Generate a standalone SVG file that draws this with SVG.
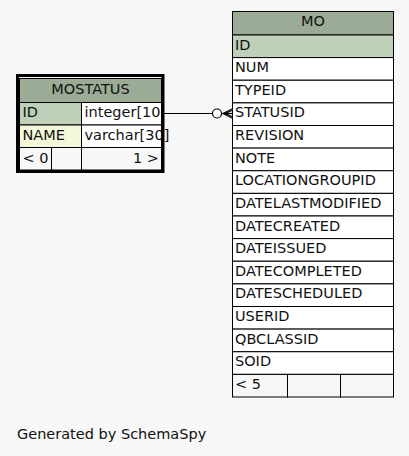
<svg xmlns="http://www.w3.org/2000/svg" width="409" height="456" viewBox="0 0 409 456">
<style>
text{font-family:"DejaVu Sans","Liberation Sans",sans-serif;font-size:14.5px;fill:#111}
.c{stroke:#000;stroke-width:1}
.h{fill:#9bab96}
.pk{fill:#bed1b8}
.ix{fill:#f4f7da}
.w{fill:#fff}
.e{stroke:#000;stroke-width:1.2;fill:none}
</style>
<rect width="409" height="456" fill="#f7f7f7"/>
<g id="connectors">
<line class="e" x1="164" y1="113.5" x2="212.5" y2="113.5"/>
<circle cx="217" cy="113.5" r="4.5" fill="#fff" stroke="#000" stroke-width="1.2"/>
<line class="e" x1="221.5" y1="113.5" x2="232" y2="113.5"/>
<path class="e" d="M232 109 L223 113.5 L232 118"/>
<path class="e" d="M232 110.5 L225 113.5 L232 116.5"/>
</g>
<g id="MOSTATUS">
<rect class="h c" x="19.5" y="78.5" width="142" height="24"/>
<text x="90.5" y="94" text-anchor="middle">MOSTATUS</text>
<rect class="pk c" x="19.5" y="102.5" width="62" height="22.5"/>
<rect class="w c" x="81.5" y="102.5" width="80" height="22.5"/>
<rect class="ix c" x="19.5" y="125" width="62" height="22.5"/>
<rect class="w c" x="81.5" y="125" width="80" height="22.5"/>
<rect class="c" fill="#f7f7f7" x="19.5" y="147.5" width="32" height="22.5"/>
<rect class="c" fill="#f7f7f7" x="51.5" y="147.5" width="30" height="22.5"/>
<rect class="c" fill="#f7f7f7" x="81.5" y="147.5" width="80" height="22.5"/>
<text x="22.5" y="117">ID</text>
<text x="84.5" y="117">integer[10</text>
<text x="22.5" y="139.5">NAME</text>
<text x="84.5" y="139.5">varchar[30]</text>
<text x="22.5" y="162.5">&lt; 0</text>
<text x="159" y="162.5" text-anchor="end">1 &gt;</text>
<rect x="17.5" y="75.5" width="145.5" height="96" fill="none" stroke="#000" stroke-width="3"/>
</g>
<g id="MO">
<rect class="h c" x="232.5" y="11.5" width="161" height="23.5"/>
<text x="313" y="26" text-anchor="middle">MO</text>
<rect class="pk c" x="232.5" y="35" width="161" height="22.6"/>
<rect class="w c" x="232.5" y="57.6" width="161" height="22.6"/>
<rect class="w c" x="232.5" y="80.25" width="161" height="22.6"/>
<rect class="w c" x="232.5" y="102.9" width="161" height="22.6"/>
<rect class="w c" x="232.5" y="125.5" width="161" height="22.6"/>
<rect class="w c" x="232.5" y="148.1" width="161" height="22.6"/>
<rect class="w c" x="232.5" y="170.75" width="161" height="22.6"/>
<rect class="w c" x="232.5" y="193.4" width="161" height="22.6"/>
<rect class="w c" x="232.5" y="216" width="161" height="22.6"/>
<rect class="w c" x="232.5" y="238.6" width="161" height="22.6"/>
<rect class="w c" x="232.5" y="261.25" width="161" height="22.6"/>
<rect class="w c" x="232.5" y="283.9" width="161" height="22.6"/>
<rect class="w c" x="232.5" y="306.5" width="161" height="22.6"/>
<rect class="w c" x="232.5" y="329.1" width="161" height="22.6"/>
<rect class="w c" x="232.5" y="351.75" width="161" height="22.6"/>
<rect class="c" fill="#f7f7f7" x="232.5" y="374.4" width="55" height="22.6"/>
<rect class="c" fill="#f7f7f7" x="287.5" y="374.4" width="53" height="22.6"/>
<rect class="c" fill="#f7f7f7" x="340.5" y="374.4" width="53" height="22.6"/>
<text x="235" y="49.5">ID</text>
<text x="235" y="72.1">NUM</text>
<text x="235" y="94.75">TYPEID</text>
<text x="235" y="117.4">STATUSID</text>
<text x="235" y="140">REVISION</text>
<text x="235" y="162.6">NOTE</text>
<text x="235" y="185.25">LOCATIONGROUPID</text>
<text x="235" y="207.9">DATELASTMODIFIED</text>
<text x="235" y="230.5">DATECREATED</text>
<text x="235" y="253.1">DATEISSUED</text>
<text x="235" y="275.75">DATECOMPLETED</text>
<text x="235" y="298.4">DATESCHEDULED</text>
<text x="235" y="321">USERID</text>
<text x="235" y="343.6">QBCLASSID</text>
<text x="235" y="366.25">SOID</text>
<text x="235" y="388.9">&lt; 5</text>
</g>
<text x="17" y="438.5">Generated by SchemaSpy</text>
</svg>
